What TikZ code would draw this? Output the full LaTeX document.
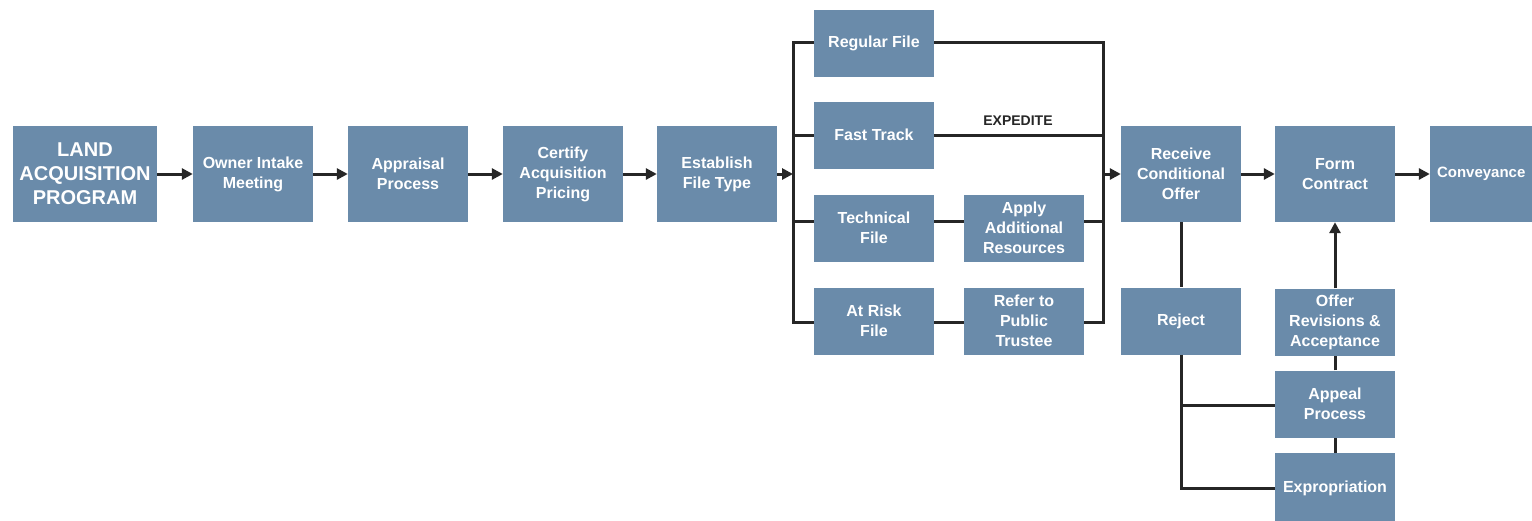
\documentclass[tikz,border=0pt]{standalone}
\usepackage{fontspec}
\setmainfont{Liberation Sans}
\usetikzlibrary{arrows.meta}
\definecolor{boxfill}{RGB}{106,139,170}
\definecolor{linecol}{RGB}{38,38,38}
\begin{document}
\begin{tikzpicture}[x=1pt,y=-1pt,
  box/.style={draw=none,fill=boxfill,text=white,font=\bfseries\fontsize{16}{20}\selectfont,
    align=center,inner sep=0pt,minimum width=120pt,minimum height=96pt},
  sbox/.style={box,minimum height=67pt},
  conn/.style={draw=linecol,line width=3pt},
  arr/.style={conn,-{Triangle[length=11pt,width=11pt]}},
  lbl/.style={text=linecol,font=\bfseries\fontsize{14}{16}\selectfont}]
\useasboundingbox (0,0) rectangle (1532,520);
\clip (0,0) rectangle (1532,520);
\fill[white] (0,0) rectangle (1532,520);
% main row
\node[box,minimum width=144pt,font=\bfseries\fontsize{20}{24}\selectfont] (land) at (85,174) {LAND\\ACQUISITION\\PROGRAM};
\node[box] (owner) at (253,174) {Owner Intake\\Meeting};
\node[box] (appr) at (408,174) {Appraisal\\Process};
\node[box] (cert) at (563,174) {Certify\\Acquisition\\Pricing};
\node[box] (est) at (717,174) {Establish\\File Type};
% file types
\node[sbox] (reg) at (874,43) {Regular File};
\node[sbox] (fast) at (874,135) {Fast Track};
\node[sbox] (tech) at (874,228) {Technical\\File};
\node[sbox] (risk) at (874,321) {At Risk\\File};
\node[sbox] (apply) at (1024,228) {Apply\\Additional\\Resources};
\node[sbox] (refer) at (1024,321) {Refer to\\Public\\Trustee};
\node[lbl] (exp) at (1018,121) {EXPEDITE};
% right part
\node[box] (recv) at (1181,174) {Receive\\Conditional\\Offer};
\node[box] (form) at (1335,174) {Form\\Contract};
\node[box,text width=120pt,align=left,font=\bfseries\fontsize{15}{20}\selectfont] (conv) at (1490,174) {\hspace*{7pt}Conveyance};
\node[sbox] (reject) at (1181,321) {Reject};
\node[sbox] (offer) at (1335,322) {Offer\\Revisions \&\\Acceptance};
\node[sbox] (appeal) at (1335,404) {Appeal\\Process};
\node[sbox,minimum height=70pt] (expro) at (1335,488) {Expropriation};
% coordinates
\coordinate (bl) at (793,174);
\coordinate (blt) at (793,42);
\coordinate (blb) at (793,322);
\coordinate (br) at (1103,174);
\coordinate (brt) at (1103,42);
\coordinate (brb) at (1103,322);
\coordinate (rj1) at (1181,405);
\coordinate (rj2) at (1181,488);
% connectors
\draw[arr] (land) -- (owner);
\draw[arr] (owner) -- (appr);
\draw[arr] (appr) -- (cert);
\draw[arr] (cert) -- (est);
\draw[arr] (est) -- (bl);
\draw[conn,line cap=rect] (blt) -- (blb);
\draw[conn] (blt) -- (blt -| reg.west);
\draw[conn] (bl |- fast) -- (fast.west);
\draw[conn] ([yshift=7pt]tech.west -| bl) -- ([yshift=7pt]tech.west);
\draw[conn] (blb) -- (blb -| risk.west);
\draw[conn] (brt -| reg.east) -- (brt);
\draw[conn] (fast.east) -- (fast -| br);
\draw[conn] ([yshift=7pt]tech.east) -- ([yshift=7pt]apply.west);
\draw[conn] ([yshift=7pt]apply.east) -- ([yshift=7pt]apply.east -| br);
\draw[conn] (risk.east |- blb) -- (refer.west |- blb);
\draw[conn] (refer.east |- brb) -- (brb);
\draw[conn,line cap=rect] (brt) -- (brb);
\draw[arr] (br) -- (recv);
\draw[arr] (recv) -- (form);
\draw[arr] (form) -- (conv);
\draw[conn] (recv) -- (reject);
\draw[conn,line join=miter] (reject.south) -- (rj2) -- (rj2 -| expro.west);
\draw[conn] (rj1) -- (rj1 -| appeal.west);
\draw[arr] (offer) -- (form);
\draw[conn] (appeal) -- (offer);
\draw[conn] (expro) -- (appeal);
\end{tikzpicture}
\end{document}
